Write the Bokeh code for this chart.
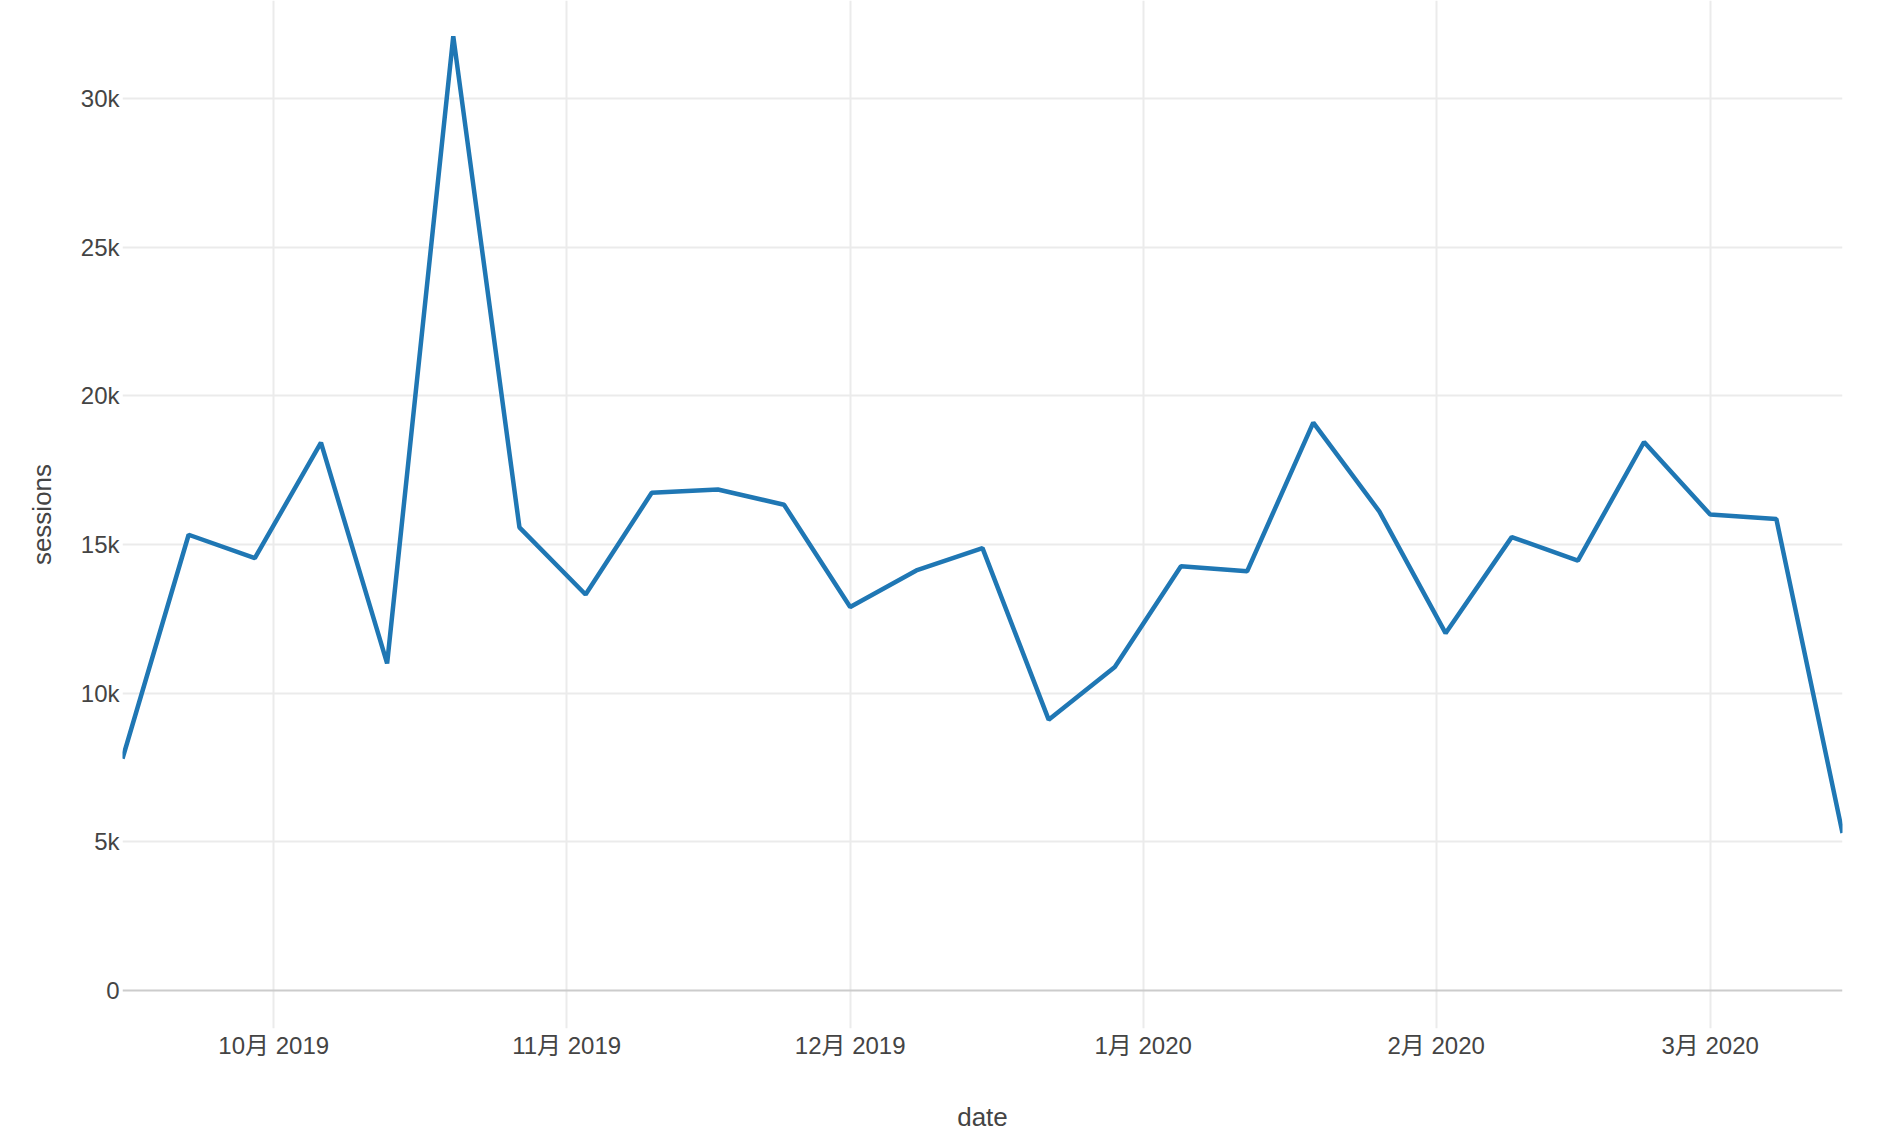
import pandas as pd
from bokeh.plotting import figure
from bokeh.models import Range1d, FixedTicker, Span
from bokeh.embed import file_html
from bokeh.resources import INLINE

# ---- data (weekly sessions) ----
dates = ["2019-09-15", "2019-09-22", "2019-09-29", "2019-10-06", "2019-10-13",
         "2019-10-20", "2019-10-27", "2019-11-03", "2019-11-10", "2019-11-17",
         "2019-11-24", "2019-12-01", "2019-12-08", "2019-12-15", "2019-12-22",
         "2019-12-29", "2020-01-05", "2020-01-12", "2020-01-19", "2020-01-26",
         "2020-02-02", "2020-02-09", "2020-02-16", "2020-02-23", "2020-03-01",
         "2020-03-08", "2020-03-15"]
sessions = [7800, 15330, 14540, 18430, 11000,
            32100, 15580, 13320, 16740, 16850,
            16340, 12900, 14130, 14880, 9110,
            10880, 14270, 14100, 19100, 16110,
            12020, 15250, 14460, 18450, 16010,
            15860, 5300]

month_ticks = ["2019-10-01", "2019-11-01", "2019-12-01", "2020-01-01", "2020-02-01", "2020-03-01"]
month_labels = ["10月 2019", "11月 2019", "12月 2019", "1月 2020", "2月 2020", "3月 2020"]
y_ticks = [0, 5000, 10000, 15000, 20000, 25000, 30000]
y_labels = ["0", "5k", "10k", "15k", "20k", "25k", "30k"]

x = pd.to_datetime(dates)
tick_ms = [int(pd.Timestamp(d).value // 10**6) for d in month_ticks]

FONT = "'Liberation Sans', Arial, 'Noto Sans CJK JP', sans-serif"
TEXT = "#444444"
GRID = "#ebebeb"

p = figure(width=1862, height=1136, x_axis_type="datetime",
           output_backend="svg", toolbar_location=None,
           x_range=Range1d(pd.Timestamp(dates[0]), pd.Timestamp(dates[-1])),
           y_range=Range1d(-1278, 33300),
           min_border_left=122, min_border_right=20,
           min_border_top=0, min_border_bottom=108)
p.outline_line_color = None
p.background_fill_color = "white"
p.border_fill_color = "white"

# x axis
p.xaxis.ticker = FixedTicker(ticks=tick_ms)
p.xaxis.major_label_overrides = {t: l for t, l in zip(tick_ms, month_labels)}
p.xaxis.axis_label = "date"
# y axis
p.yaxis.ticker = FixedTicker(ticks=y_ticks)
p.yaxis.major_label_overrides = {t: l for t, l in zip(y_ticks, y_labels)}
p.yaxis.axis_label = "sessions"

for ax in (p.xaxis[0], p.yaxis[0]):
    ax.axis_line_color = None
    ax.major_tick_line_color = None
    ax.minor_tick_line_color = None
    ax.major_tick_out = 0
    ax.major_tick_in = 0
    ax.minor_tick_out = 0
    ax.major_label_text_font = FONT
    ax.major_label_text_font_size = "24px"
    ax.major_label_text_color = TEXT
    ax.axis_label_text_font = FONT
    ax.axis_label_text_font_size = "26px"
    ax.axis_label_text_font_style = "normal"
    ax.axis_label_text_color = TEXT

p.xaxis.major_label_standoff = 3
p.xaxis.axis_label_standoff = 40
p.yaxis.major_label_standoff = 3
p.yaxis.axis_label_standoff = 21

p.xgrid.ticker = FixedTicker(ticks=tick_ms)
p.xgrid.grid_line_color = GRID
p.xgrid.grid_line_width = 2
p.ygrid.ticker = FixedTicker(ticks=y_ticks[1:])
p.ygrid.grid_line_color = GRID
p.ygrid.grid_line_width = 2

p.add_layout(Span(location=0, dimension="width", line_color="#cccccc", line_width=2))

p.line(x, sessions, line_color="#1f77b4", line_width=4.5)

open("out.html", "w").write(file_html(p, INLINE))
